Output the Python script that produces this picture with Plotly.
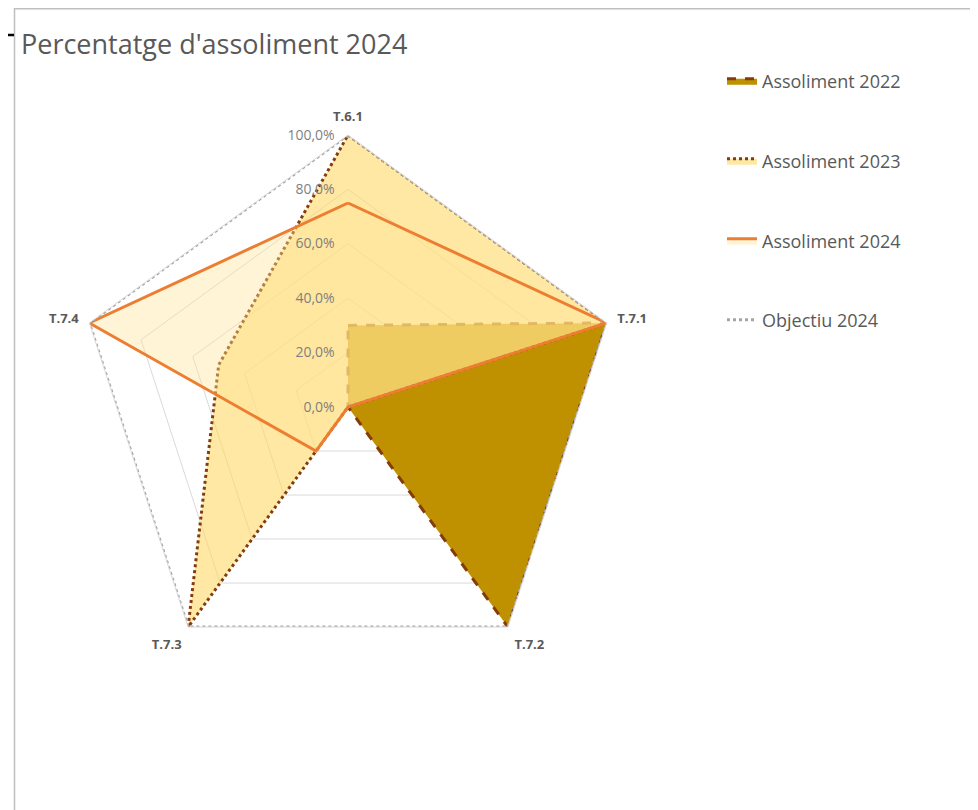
import plotly.graph_objects as go

categories = ["T.6.1", "T.7.1", "T.7.2", "T.7.3", "T.7.4"]
assol_2022 = [0.30, 1.00, 1.00, 0.00, 0.00]
assol_2023 = [1.00, 1.00, 0.00, 1.00, 0.50]
assol_2024 = [0.75, 1.00, 0.00, 0.20, 1.00]
objectiu_2024 = [1.00, 1.00, 1.00, 1.00, 1.00]
radial_ticks = [0, 0.2, 0.4, 0.6, 0.8, 1.0]
radial_labels = ["0,0%", "20,0%", "40,0%", "60,0%", "80,0%", "100,0%"]
title_text = "Percentatge d'assoliment 2024"

W, H = 978, 810
OFF = 8  # page body margin
def px(x):
    return (x - OFF) / W
def py(y):
    return 1 - (y - OFF) / H

def closed(v):
    return v + [v[0]]
cats = closed(categories)

fig = go.Figure()
fig.add_trace(go.Scatterpolar(
    r=closed(assol_2022), theta=cats, name="Assoliment 2022", mode="lines",
    fill="toself", fillcolor="#BF9000", showlegend=True,
    line=dict(color="#843C0C", width=3, dash="dash"), legend="legend"))
fig.add_trace(go.Scatterpolar(
    r=closed(assol_2023), theta=cats, name="Assoliment 2023", mode="lines",
    fill="toself", fillcolor="rgba(255,217,102,0.6)", showlegend=True,
    line=dict(color="#843C0C", width=3, dash="dot"), legend="legend2"))
fig.add_trace(go.Scatterpolar(
    r=closed(assol_2024), theta=cats, name="Assoliment 2024", mode="lines",
    fill="toself", fillcolor="rgba(255,230,153,0.4)", showlegend=True,
    line=dict(color="#ED7D31", width=3), legend="legend3"))
fig.add_trace(go.Scatterpolar(
    r=closed(objectiu_2024), theta=cats, name="Objectiu 2024", mode="lines",
    showlegend=True,
    line=dict(color="#A5A5A5", width=3, dash="dot"), legend="legend4"))

cx, cy, R = 348, 407, 272
FONT = "Open Sans, Noto Sans, sans-serif"
legfont = dict(family=FONT, size=18, color="#595959")
def leg(y):
    return dict(x=px(722), y=py(y), xanchor="left", yanchor="middle", visible=True,
                font=legfont, bgcolor="rgba(0,0,0,0)", itemwidth=30)

fig.update_layout(
    width=W, height=H,
    margin=dict(l=0, r=0, t=0, b=0),
    paper_bgcolor="white",
    showlegend=True,
    title=dict(text=title_text, x=px(21), y=py(45), xanchor="left", yanchor="middle",
               font=dict(family=FONT, size=27, color="#595959")),
    polar=dict(
        domain=dict(x=[px(cx - R), px(cx + R)], y=[py(cy + R), py(cy - R)]),
        bgcolor="rgba(0,0,0,0)",
        gridshape="linear",
        radialaxis=dict(range=[0, 1], tickvals=radial_ticks, ticktext=radial_labels,
                        angle=90, side="counterclockwise", tickangle=90,
                        showline=False, ticks="outside", ticklen=8, tickcolor="rgba(0,0,0,0)",
                        gridcolor="#D9D9D9", gridwidth=1,
                        tickfont=dict(family=FONT, size=14, color="#7F7F7F")),
        angularaxis=dict(rotation=90, direction="clockwise", showgrid=False,
                         showline=True, linecolor="#D9D9D9", linewidth=1,
                         ticks="outside", ticklen=8, tickcolor="rgba(0,0,0,0)",
                         tickfont=dict(family=FONT, size=13, color="#595959", weight="bold")),
    ),
    legend=leg(81), legend2=leg(161), legend3=leg(241), legend4=leg(320),
    shapes=[
        dict(type="line", xref="paper", yref="paper", x0=px(14), x1=px(990), y0=py(8.8), y1=py(8.8),
             line=dict(color="#BFBFBF", width=1.5)),
        dict(type="line", xref="paper", yref="paper", x0=px(14.5), x1=px(14.5), y0=py(8), y1=py(820),
             line=dict(color="#BFBFBF", width=1.5)),
        dict(type="line", xref="paper", yref="paper", x0=px(0), x1=px(14), y0=py(35), y1=py(35),
             line=dict(color="#000000", width=2.5)),
    ],
)

fig.write_html("out.html")
